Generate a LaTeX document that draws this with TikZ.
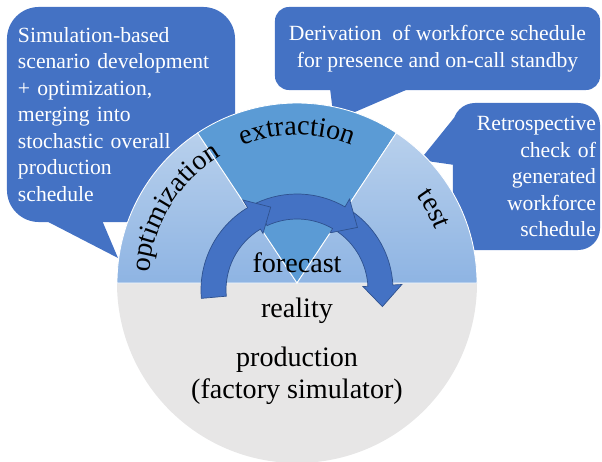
\documentclass[tikz,border=0pt]{standalone}
\usepackage{fontspec}
\setmainfont{Liberation Serif}
\usepackage{tikz}
\usetikzlibrary{positioning, calc, decorations.text}
\definecolor{cBlue}{HTML}{4472C4}
\definecolor{cBlueLine}{HTML}{2F528F}
\definecolor{cMid}{HTML}{5B9BD5}
\definecolor{cLightTop}{HTML}{B8D0EC}
\definecolor{cLightBot}{HTML}{8EB4E3}
\definecolor{cGrey}{HTML}{E7E6E6}
\newcommand{\calloutfont}{\fontsize{15.4pt}{18.85pt}\selectfont}
\newcommand{\ringfont}{\fontsize{20pt}{22.8pt}\selectfont}
% one piece of the circular arrow: #1 start angle, #2 head base, #3 tip
\newcommand{\ringarrow}[3]{%
  \filldraw[arr] ([shift={(#1:71)}]rc) arc[start angle=#1, end angle=#2, radius=71]
    -- ([shift={(#2:66)}]rc) -- ([shift={(#3:87)}]rc) -- ([shift={(#2:105)}]rc)
    -- ([shift={(#2:96)}]rc) arc[start angle=#2, end angle=#1, radius=96] -- cycle;}

\begin{document}
\begin{tikzpicture}[x=0.025cm, y=0.025cm,
          callout/.style={fill=cBlue, text=white, font=\calloutfont, inner ysep=4pt},
          sect/.style={draw=white, line width=0.6pt},
          arr/.style={fill=cBlue, draw=cBlueLine, line width=0.5pt},
          ringtext/.style={font=\ringfont, inner sep=0pt}]
        \useasboundingbox (0,0) rectangle (602,461);
        \clip (0,0) rectangle (602,461);
        \coordinate (cen) at (297,178);
        \coordinate (rc) at (297,171);
        % callouts sit below the circle
        \node[callout, minimum width=5.7cm, minimum height=5.375cm, rounded corners=0.8cm,
          inner xsep=0.275cm, text width=5.15cm, align=left] (cOpt) at (121,346.5)
          {Simulation-based\\ scenario development\\ + optimization,\\ merging into\\
           stochastic overall\\ production\\ schedule};
        \coordinate (tOpt) at (118,203);
        \fill[cBlue] ($(cOpt.south)+(-76,2)$) -- ($(cOpt.south)+(-19,2)$) -- (tOpt) -- cycle;
        \node[callout, minimum width=8.125cm, minimum height=2.075cm, rounded corners=0.35cm,
          align=center] (cExt) at (437.5,412.5)
          {Derivation\ \ of workforce schedule\\ for presence and on-call standby};
        \coordinate (tExt) at (334,340);
        \fill[cBlue] ($(cExt.south)+(-107.5,2)$) -- ($(cExt.south)+(-27.5,2)$) -- (tExt) -- cycle;
        \node[callout, minimum width=3.675cm, minimum height=3.675cm, rounded corners=0.55cm,
          inner xsep=0.1cm, text width=3.475cm, align=right] (cTest) at (526.5,284.5)
          {Retrospective\\ check of\\ generated\\ workforce\\ schedule};
        \coordinate (tTest) at (420,301);
        \fill[cBlue] ($(cTest.west)+(2,59.5)$) -- ($(cTest.west)+(2,11.5)$) -- (tTest) -- cycle;
        % the circle: reality below, three phases above
        \fill[cGrey] (cen) -- ([shift={(0:180)}]cen) arc[start angle=0, end angle=-180, radius=180] -- cycle;
        \path[sect, top color=cLightTop, bottom color=cLightBot] (cen) -- ([shift={(180:180)}]cen)
          arc[start angle=180, end angle=123.5, radius=180] -- cycle;
        \path[sect, fill=cMid] (cen) -- ([shift={(123.5:180)}]cen)
          arc[start angle=123.5, end angle=56.5, radius=180] -- cycle;
        \path[sect, top color=cLightTop, bottom color=cLightBot] (cen) -- ([shift={(56.5:180)}]cen)
          arc[start angle=56.5, end angle=0, radius=180] -- cycle;
        \path[decorate, decoration={text along path, text={|\ringfont|optimization}, text align=center}]
          ([shift={(178.5:148)}]cen) arc[start angle=178.5, end angle=118.5, radius=148];
        \path[decorate, decoration={text along path, text={|\ringfont|extraction}, text align=center}]
          ([shift={(120:148)}]cen) arc[start angle=120, end angle=60, radius=148];
        \path[decorate, decoration={text along path, text={|\ringfont|test}, text align=center}]
          ([shift={(58.5:148)}]cen) arc[start angle=58.5, end angle=-1.5, radius=148];
        % circular arrow, last piece first
        \ringarrow{55}{3}{-11}
        \ringarrow{115}{60}{46}
        \ringarrow{185}{121}{107.6}
        \node[ringtext, anchor=base] (fc) at (297,189) {forecast};
        \node[ringtext, anchor=base] (re) at (297,144) {reality};
        \node[ringtext, anchor=north, align=center] (pr) at (297,114.3) {production\\(factory simulator)};
      \end{tikzpicture}
\end{document}
